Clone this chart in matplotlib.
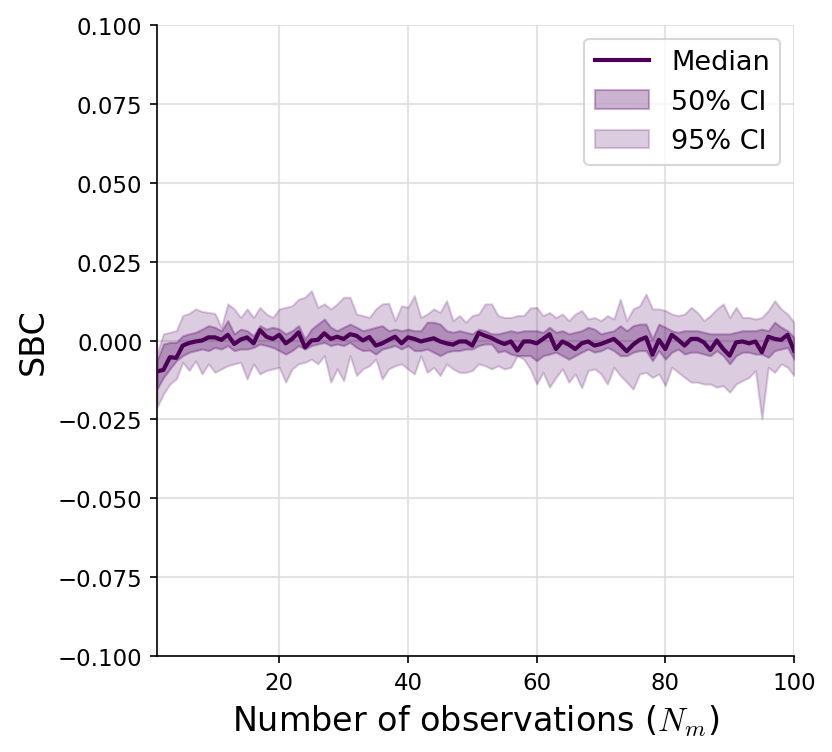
import numpy as np
import matplotlib.pyplot as plt

plt.switch_backend('Agg')
plt.rcParams['mathtext.fontset'] = 'cm'

# Number of observations
n_obs = np.arange(1, 101)

median = [
    -0.0098, -0.0093, -0.0053, -0.0055, -0.0016, -0.0008, -0.0003, 0.0000, 0.0010, 0.0010,
    0.0002, 0.0018, -0.0011, 0.0003, 0.0010, -0.0009, 0.0033, 0.0012, 0.0005, 0.0018,
    -0.0009, 0.0005, 0.0026, -0.0022, 0.0000, 0.0002, 0.0023, 0.0005, 0.0012, 0.0005,
    0.0020, 0.0015, 0.0000, 0.0011, -0.0016, -0.0009, 0.0002, 0.0012, -0.0009, 0.0010,
    0.0005, -0.0003, 0.0002, 0.0007, -0.0003, -0.0009, -0.0013, -0.0003, -0.0003, -0.0016,
    0.0024, 0.0015, 0.0008, -0.0003, -0.0011, -0.0003, -0.0032, -0.0003, -0.0003, -0.0009,
    0.0005, 0.0020, -0.0027, -0.0003, -0.0013, -0.0027, -0.0009, -0.0003, -0.0016, -0.0011,
    -0.0003, 0.0005, -0.0013, -0.0034, -0.0013, 0.0002, 0.0010, -0.0045, 0.0002, -0.0027,
    0.0018, 0.0002, -0.0016, 0.0005, 0.0005, -0.0006, -0.0030, 0.0000, -0.0027, -0.0048,
    -0.0006, -0.0003, -0.0009, -0.0003, -0.0037, 0.0012, 0.0005, 0.0002, 0.0018, -0.0032,
]

q25 = [
    -0.0154, -0.0117, -0.0090, -0.0064, -0.0048, -0.0037, -0.0032, -0.0027, -0.0032, -0.0022,
    -0.0027, -0.0016, -0.0032, -0.0027, -0.0027, -0.0022, -0.0011, -0.0016, -0.0022, -0.0032,
    -0.0043, -0.0032, -0.0016, -0.0027, -0.0016, -0.0011, -0.0006, -0.0016, -0.0011, -0.0016,
    -0.0006, -0.0022, -0.0032, -0.0030, -0.0043, -0.0027, -0.0022, -0.0016, -0.0027, -0.0016,
    -0.0032, -0.0032, -0.0027, -0.0037, -0.0048, -0.0037, -0.0032, -0.0032, -0.0027, -0.0027,
    -0.0016, -0.0011, -0.0011, -0.0037, -0.0032, -0.0043, -0.0048, -0.0048, -0.0048, -0.0064,
    -0.0048, -0.0043, -0.0037, -0.0048, -0.0059, -0.0048, -0.0037, -0.0027, -0.0037, -0.0032,
    -0.0022, -0.0032, -0.0048, -0.0048, -0.0037, -0.0032, -0.0032, -0.0064, -0.0032, -0.0059,
    -0.0037, -0.0027, -0.0043, -0.0037, -0.0037, -0.0043, -0.0048, -0.0032, -0.0048, -0.0074,
    -0.0048, -0.0037, -0.0037, -0.0043, -0.0043, -0.0053, -0.0032, -0.0027, -0.0022, -0.0059,
]

q75 = [
    -0.0064, -0.0011, -0.0006, -0.0006, 0.0015, 0.0021, 0.0026, 0.0036, 0.0047, 0.0042,
    0.0031, 0.0063, 0.0021, 0.0036, 0.0031, 0.0015, 0.0047, 0.0036, 0.0042, 0.0036,
    0.0021, 0.0031, 0.0047, 0.0005, 0.0036, 0.0052, 0.0068, 0.0042, 0.0031, 0.0042,
    0.0052, 0.0042, 0.0031, 0.0036, 0.0042, 0.0047, 0.0031, 0.0036, 0.0031, 0.0036,
    0.0031, 0.0031, 0.0058, 0.0058, 0.0052, 0.0031, 0.0026, 0.0031, 0.0026, 0.0021,
    0.0036, 0.0031, 0.0021, 0.0021, 0.0026, 0.0031, 0.0026, 0.0031, 0.0031, 0.0031,
    0.0026, 0.0042, 0.0026, 0.0031, 0.0021, 0.0026, 0.0031, 0.0042, 0.0036, 0.0021,
    0.0026, 0.0031, 0.0047, 0.0031, 0.0047, 0.0052, 0.0052, 0.0005, 0.0052, 0.0042,
    0.0031, 0.0026, 0.0031, 0.0031, 0.0031, 0.0026, 0.0021, 0.0021, 0.0021, 0.0021,
    0.0026, 0.0031, 0.0031, 0.0031, 0.0036, 0.0031, 0.0058, 0.0042, 0.0031, 0.0010,
]

q025 = [
    -0.0212, -0.0169, -0.0138, -0.0122, -0.0069, -0.0095, -0.0064, -0.0106, -0.0074, -0.0101,
    -0.0090, -0.0080, -0.0074, -0.0069, -0.0122, -0.0074, -0.0106, -0.0095, -0.0090, -0.0085,
    -0.0132, -0.0090, -0.0074, -0.0069, -0.0059, -0.0074, -0.0048, -0.0132, -0.0090, -0.0127,
    -0.0048, -0.0111, -0.0090, -0.0080, -0.0059, -0.0122, -0.0090, -0.0080, -0.0074, -0.0090,
    -0.0106, -0.0048, -0.0101, -0.0085, -0.0111, -0.0074, -0.0090, -0.0101, -0.0101, -0.0095,
    -0.0074, -0.0080, -0.0090, -0.0080, -0.0090, -0.0085, -0.0048, -0.0059, -0.0090, -0.0138,
    -0.0101, -0.0148, -0.0117, -0.0090, -0.0132, -0.0106, -0.0150, -0.0095, -0.0090, -0.0106,
    -0.0138, -0.0085, -0.0111, -0.0132, -0.0154, -0.0106, -0.0101, -0.0117, -0.0106, -0.0143,
    -0.0085, -0.0101, -0.0117, -0.0132, -0.0132, -0.0138, -0.0138, -0.0148, -0.0143, -0.0164,
    -0.0138, -0.0127, -0.0117, -0.0095, -0.0248, -0.0085, -0.0101, -0.0074, -0.0085, -0.0111,
]

q975 = [
    -0.0040, 0.0021, 0.0026, 0.0031, 0.0079, 0.0086, 0.0100, 0.0092, 0.0089, 0.0086,
    0.0042, 0.0116, 0.0100, 0.0073, 0.0100, 0.0073, 0.0105, 0.0084, 0.0073, 0.0100,
    0.0105, 0.0110, 0.0131, 0.0137, 0.0158, 0.0105, 0.0116, 0.0100, 0.0116, 0.0137,
    0.0137, 0.0084, 0.0079, 0.0073, 0.0100, 0.0116, 0.0118, 0.0063, 0.0110, 0.0105,
    0.0142, 0.0073, 0.0084, 0.0100, 0.0089, 0.0126, 0.0063, 0.0079, 0.0058, 0.0079,
    0.0084, 0.0116, 0.0116, 0.0079, 0.0073, 0.0073, 0.0079, 0.0079, 0.0103, 0.0105,
    0.0079, 0.0089, 0.0073, 0.0084, 0.0063, 0.0084, 0.0095, 0.0068, 0.0073, 0.0063,
    0.0079, 0.0068, 0.0131, 0.0063, 0.0100, 0.0110, 0.0147, 0.0100, 0.0100, 0.0095,
    0.0084, 0.0079, 0.0084, 0.0105, 0.0089, 0.0063, 0.0079, 0.0100, 0.0116, 0.0073,
    0.0105, 0.0073, 0.0073, 0.0068, 0.0073, 0.0095, 0.0126, 0.0100, 0.0084, 0.0058,
]

band_color = '#500064'
line_color = '#4b0055'

fig = plt.figure(figsize=(832 / 150, 753 / 150), dpi=150)
ax = fig.add_axes([157 / 832, 1 - 657 / 753, 637 / 832, 631 / 753])

ax.fill_between(n_obs, q025, q975, color=band_color, alpha=0.2, zorder=2, label='95% CI')
ax.fill_between(n_obs, q25, q75, color=band_color, alpha=0.3, zorder=3, label='50% CI')
ax.plot(n_obs, median, color=line_color, lw=2, zorder=4, label='Median')

ax.set_xlim(1, 100)
ax.set_ylim(-0.1, 0.1)
ax.set_yticks(np.arange(-0.1, 0.1001, 0.025))
ax.set_xticks([20, 40, 60, 80, 100])
ax.grid(True, color='#dddddd', lw=1, alpha=0.8, zorder=0)
ax.set_axisbelow(True)
ax.spines['top'].set_visible(False)
ax.spines['right'].set_visible(False)
ax.tick_params(labelsize=11)

ax.set_xlabel('Number of observations ($N_m$)', fontsize=16)
ax.set_ylabel('SBC', fontsize=16)

handles, labels = ax.get_legend_handles_labels()
order = [2, 1, 0]
ax.legend([handles[i] for i in order], [labels[i] for i in order],
          loc='upper right', fontsize=13)

fig.savefig('out.png', dpi=150)
